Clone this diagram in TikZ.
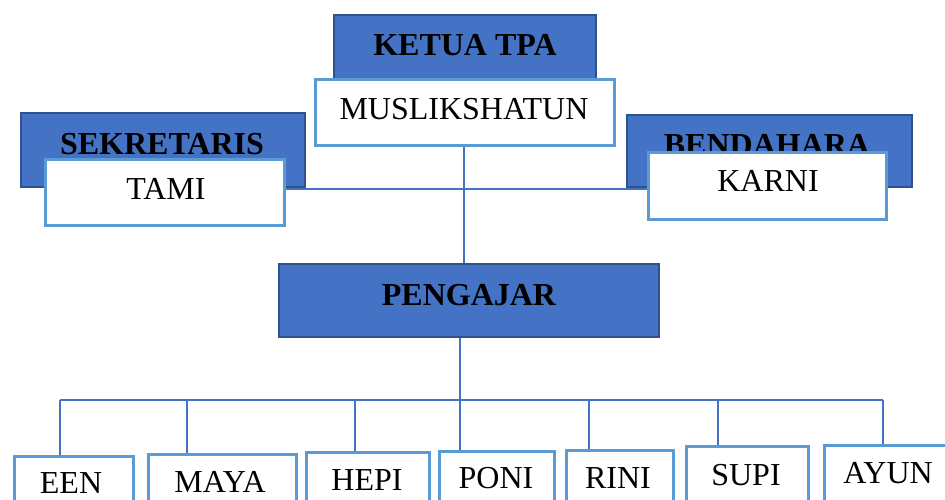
\documentclass[tikz,border=0pt]{standalone}
\usepackage{fontspec}
\setmainfont{Liberation Serif}
\definecolor{bfill}{HTML}{4472C4}
\definecolor{bdraw}{HTML}{2F528F}
\definecolor{wdraw}{HTML}{5B9BD5}
\definecolor{conncol}{HTML}{4472C4}
\tikzset{
  bluebox/.style={rectangle, draw=bdraw, fill=bfill, line width=2pt, inner sep=0pt},
  whitebox/.style={rectangle, draw=wdraw, fill=white, line width=3pt, inner sep=0pt},
  lbl/.style={font=\fontsize{32}{32}\selectfont, inner sep=0pt, anchor=base},
  blbl/.style={font=\fontsize{32}{32}\selectfont\bfseries, inner sep=0pt, anchor=base},
  connector/.style={draw=conncol, line width=1.3pt},
}
\begin{document}
\begin{tikzpicture}[x=1pt,y=-1pt]
\useasboundingbox (0,0) rectangle (945,499);
\clip (0,0) rectangle (945,499);
\fill[white] (0,0) rectangle (945,499);

% boxes (geometry)
\node[bluebox, minimum width=262pt, minimum height=65pt] (ketua) at (465,47.5) {};
\node[bluebox, minimum width=284pt, minimum height=74pt] (sek) at (163,150) {};
\node[bluebox, minimum width=285pt, minimum height=72pt] (bend) at (769.5,151) {};
\node[bluebox, minimum width=380pt, minimum height=73pt] (peng) at (469,300.5) {};

\node[blbl] (tketua) at (465,55) {KETUA TPA};
\node[blbl] (tsek) at (162,154) {SEKRETARIS};
\node[blbl] (tbend) at (767,155) {BENDAHARA};
\node[blbl] (tpeng) at (469,305) {PENGAJAR};

% connectors
\coordinate (h) at (0,189);
\coordinate (v) at (464,0);
\coordinate (d1) at (60,400);
\coordinate (d2) at (187,400);
\coordinate (d3) at (355,400);
\coordinate (bus) at (460,400);
\coordinate (d5) at (589,400);
\coordinate (d6) at (718,400);
\coordinate (d7) at (883,400);

\node[whitebox, minimum width=299pt, minimum height=66pt] (musl) at (465,112.5) {};
\node[whitebox, minimum width=239pt, minimum height=66pt] (tami) at (165,192.5) {};
\node[whitebox, minimum width=238pt, minimum height=67pt] (karni) at (767.5,186) {};

\node[whitebox, anchor=north west, minimum width=119pt, minimum height=90pt] (een) at (12.5,454.5) {};
\node[whitebox, anchor=north west, minimum width=148pt, minimum height=90pt] (maya) at (146.5,452.5) {};
\node[whitebox, anchor=north west, minimum width=123pt, minimum height=90pt] (hepi) at (304.5,450.5) {};
\node[whitebox, anchor=north west, minimum width=115pt, minimum height=90pt] (poni) at (437.5,449.5) {};
\node[whitebox, anchor=north west, minimum width=107pt, minimum height=90pt] (rini) at (564.5,448.5) {};
\node[whitebox, anchor=north west, minimum width=122pt, minimum height=90pt] (supi) at (684.5,444.5) {};
\node[whitebox, anchor=north west, minimum width=140pt, minimum height=90pt] (ayun) at (822.5,443.5) {};

\draw[connector] (musl.south -| v) -- (peng.north -| v);
\draw[connector] (tami.east |- h) -- (karni.west |- h);
\draw[connector] (peng.south -| bus) -- (bus);
\draw[connector] (d1) -- (d7);
\draw[connector] (d1) -- (een.north -| d1);
\draw[connector] (d2) -- (maya.north -| d2);
\draw[connector] (d3) -- (hepi.north -| d3);
\draw[connector] (bus) -- (poni.north -| bus);
\draw[connector] (d5) -- (rini.north -| d5);
\draw[connector] (d6) -- (supi.north -| d6);
\draw[connector] (d7) -- (ayun.north -| d7);

% labels
\node[lbl] (tmusl) at (464,119) {MUSLIKSHATUN};
\node[lbl] (ttami) at (166,199) {TAMI};
\node[lbl] (tkarni) at (768,191) {KARNI};
\node[lbl] (teen) at (71,493) {EEN};
\node[lbl] (tmaya) at (220,492) {MAYA};
\node[lbl] (thepi) at (367,490) {HEPI};
\node[lbl] (tponi) at (496,488) {PONI};
\node[lbl] (trini) at (618,488) {RINI};
\node[lbl] (tsupi) at (746,485) {SUPI};
\node[lbl] (tayun) at (888,483) {AYUN};
\end{tikzpicture}
\end{document}
